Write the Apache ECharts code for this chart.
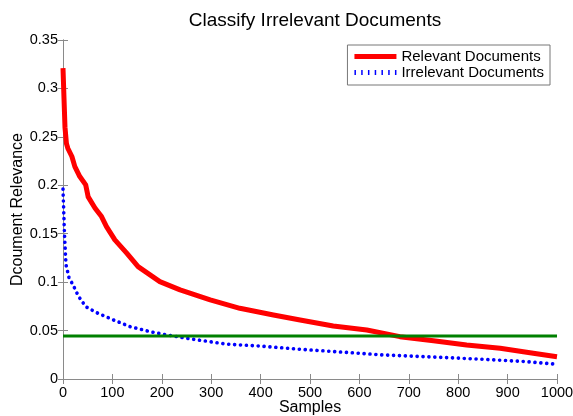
<!DOCTYPE html>
<html>
<head>
<meta charset="utf-8">
<script src="https://cdn.jsdelivr.net/npm/echarts@6/dist/echarts.min.js"></script>
<style>
  html, body { margin: 0; padding: 0; background: #fff; }
  #main { width: 573px; height: 416px; }
</style>
</head>
<body>
<div id="main"></div>
<script>
// samples (x) and values
var relevantX = [0, 2, 4, 7, 10, 18, 24, 34, 46, 51, 65, 78, 88, 105, 129, 152, 196, 237, 298, 358, 426, 480, 547, 615, 682, 750, 817, 885, 952, 1000];
var relevantY = [0.321, 0.29, 0.26, 0.243, 0.238, 0.2297, 0.2193, 0.209, 0.2004, 0.188, 0.1763, 0.1677, 0.1573, 0.1436, 0.1299, 0.116, 0.1005, 0.092, 0.0816, 0.073, 0.066, 0.061, 0.0548, 0.0506, 0.0437, 0.0396, 0.0351, 0.0317, 0.0265, 0.023];
var irrelevantX = [0, 3, 6, 12, 22, 31, 46, 68, 102, 136, 176, 210, 264, 331, 399, 480, 500, 581, 648, 763, 851, 939, 1000];
var irrelevantY = [0.196, 0.15, 0.118, 0.105, 0.0954, 0.0857, 0.0747, 0.0685, 0.061, 0.054, 0.0489, 0.0455, 0.041, 0.036, 0.034, 0.0307, 0.030, 0.0272, 0.0248, 0.0224, 0.0203, 0.0179, 0.0152];
var thresholdX = [0, 1000];
var thresholdY = [0.0444, 0.0444];

var font = 'Liberation Sans, Arial, sans-serif';

function pairs(xs, ys) {
    var out = [];
    for (var i = 0; i < xs.length; i++) out.push([xs[i], ys[i]]);
    return out;
}

// legend icon: row of short vertical ticks, like the dotted line sample
var dotIcon = 'path://M0,0h1.5v5h-1.5z M6.75,0h1.5v5h-1.5z M13.5,0h1.5v5h-1.5z M20.25,0h1.5v5h-1.5z M27,0h1.5v5h-1.5z M33.75,0h1.5v5h-1.5z M40.5,0h1.5v5h-1.5z';

var mychart = echarts.init(document.getElementById('main'));

var axisLine = { show: true, lineStyle: { color: '#8a8a8a', width: 1 } };
var tickIn = { show: true, inside: true, length: 5, lineStyle: { color: '#8a8a8a' } };

mychart.setOption({
    animation: false,
    backgroundColor: '#fff',
    title: {
        text: 'Classify Irrelevant Documents',
        left: 310,
        textAlign: 'center',
        top: 6,
        textStyle: { fontFamily: font, fontSize: 19, fontWeight: 'normal', color: '#000' }
    },
    legend: {
        right: 23,
        top: 45,
        orient: 'vertical',
        itemWidth: 42,
        itemHeight: 5,
        itemGap: 1,
        padding: [4, 6, 5, 7],
        borderColor: '#777',
        borderWidth: 1,
        backgroundColor: '#fff',
        itemStyle: { borderWidth: 0 },
        textStyle: { fontFamily: font, fontSize: 15, color: '#000' },
        data: [
            { name: 'Relevant Documents', icon: 'rect' },
            { name: 'Irrelevant Documents', icon: dotIcon }
        ]
    },
    grid: { left: 63, right: 16, top: 40, bottom: 37, outerBoundsMode: 'none', containLabel: false },
    xAxis: [{
        type: 'value',
        min: 0, max: 1000, interval: 100,
        name: 'Samples',
        nameLocation: 'middle',
        nameGap: 21,
        nameMoveOverlap: false,
        nameTextStyle: { fontFamily: font, fontSize: 16, color: '#000' },
        axisLine: axisLine,
        axisTick: tickIn,
        axisLabel: { fontFamily: font, fontSize: 14.5, color: '#000', margin: 6, formatter: function (v) { return String(v); } },
        splitLine: { show: false }
    }, {
        type: 'value',
        position: 'top',
        min: 0, max: 1000, interval: 100,
        axisLine: axisLine,
        axisTick: tickIn,
        axisLabel: { show: false },
        splitLine: { show: false }
    }],
    yAxis: [{
        type: 'value',
        min: 0, max: 0.35, interval: 0.05,
        name: 'Dcoument Relevance',
        nameLocation: 'middle',
        nameGap: 37,
        nameMoveOverlap: false,
        nameTextStyle: { fontFamily: font, fontSize: 16, color: '#000' },
        axisLine: axisLine,
        axisTick: tickIn,
        axisLabel: { fontFamily: font, fontSize: 14.5, color: '#000', margin: 5 },
        splitLine: { show: false }
    }, {
        type: 'value',
        position: 'right',
        min: 0, max: 0.35, interval: 0.05,
        axisLine: axisLine,
        axisTick: tickIn,
        axisLabel: { show: false },
        splitLine: { show: false }
    }],
    series: [{
        name: 'Relevant Documents',
        type: 'line',
        symbol: 'none',
        z: 3,
        lineStyle: { color: '#ff0000', width: 5, join: 'round' },
        itemStyle: { color: '#ff0000' },
        data: pairs(relevantX, relevantY)
    }, {
        name: 'Irrelevant Documents',
        type: 'line',
        symbol: 'none',
        z: 2,
        lineStyle: { color: '#0000ff', width: 3.6, type: [0.1, 5.8], cap: 'round' },
        itemStyle: { color: '#0000ff' },
        data: pairs(irrelevantX, irrelevantY)
    }, {
        name: 'Threshold',
        type: 'line',
        symbol: 'none',
        z: 4,
        lineStyle: { color: '#008000', width: 3 },
        data: pairs(thresholdX, thresholdY)
    }]
});
</script>
</body>
</html>
